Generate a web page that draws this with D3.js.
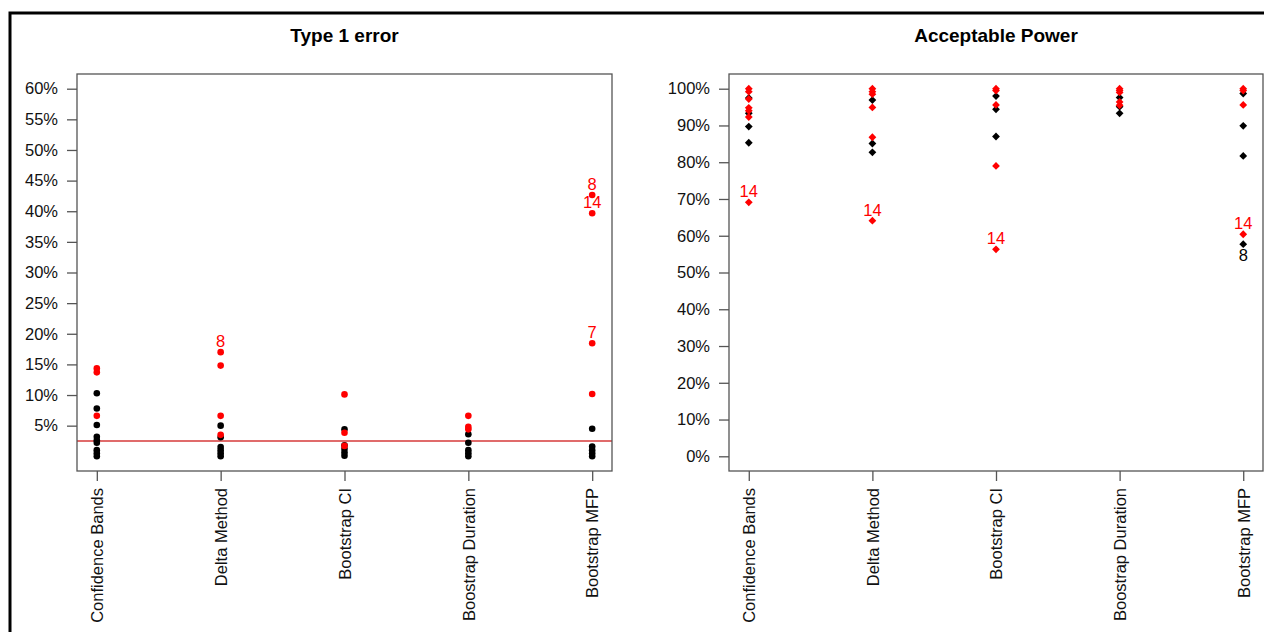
<!DOCTYPE html>
<html>
<head>
<meta charset="utf-8">
<script src="https://cdn.jsdelivr.net/npm/d3@7"></script>
<style>
  body { margin: 0; background: #fff; }
  svg { display: block; font-family: "Liberation Sans", Arial, sans-serif; }
</style>
</head>
<body>
<div id="chart"></div>
<script>
var width = 1264,
    height = 632;

var categories = ["Confidence Bands", "Delta Method", "Bootstrap CI", "Boostrap Duration", "Bootstrap MFP"];

// type 1 error, one list per method
var type1Black = [
  [0.103, 0.078, 0.051, 0.032, 0.026, 0.022, 0.010, 0.005, 0.000],
  [0.050, 0.031, 0.015, 0.010, 0.005, 0.000],
  [0.044, 0.018, 0.012, 0.006, 0.001],
  [0.036, 0.022, 0.010, 0.005, 0.000],
  [0.045, 0.016, 0.010, 0.005, 0.000]
];
var type1Red = [
  [0.1435, 0.137, 0.066],
  [0.170, 0.148, 0.066, 0.035],
  [0.101, 0.0385, 0.017],
  [0.066, 0.048, 0.044],
  [0.4265, 0.3966, 0.1844, 0.1017]
];
// labelled points: [method index, value, label, colour, above?]
var type1Labels = [
  [1, 0.170, "8", "red", true],
  [4, 0.4265, "8", "red", true],
  [4, 0.3966, "14", "red", true],
  [4, 0.1844, "7", "red", true]
];
var type1Ticks = [0.05, 0.10, 0.15, 0.20, 0.25, 0.30, 0.35, 0.40, 0.45, 0.50, 0.55, 0.60];
var type1Ref = 0.025;

// acceptable power
var powerBlack = [
  [0.975, 0.933, 0.897, 0.853],
  [0.969, 0.851, 0.827],
  [0.980, 0.944, 0.870],
  [0.976, 0.951, 0.933],
  [0.987, 0.899, 0.817, 0.577]
];
var powerRed = [
  [1.000, 0.992, 0.972, 0.948, 0.940, 0.923, 0.691],
  [1.000, 0.992, 0.985, 0.949, 0.868, 0.641],
  [1.000, 0.995, 0.956, 0.790, 0.563],
  [1.000, 0.995, 0.990, 0.964, 0.955],
  [1.000, 0.995, 0.956, 0.604]
];
var powerLabels = [
  [0, 0.691, "14", "red", true],
  [1, 0.641, "14", "red", true],
  [2, 0.563, "14", "red", true],
  [4, 0.604, "14", "red", true],
  [4, 0.577, "8", "black", false]
];
var powerTicks = [0, 0.1, 0.2, 0.3, 0.4, 0.5, 0.6, 0.7, 0.8, 0.9, 1.0];

var svg = d3.select('#chart').append('svg')
  .attr('width', width)
  .attr('height', height);

// outer frame
svg.append('rect')
  .attr('x', 10).attr('y', 13)
  .attr('width', width + 20).attr('height', height + 20)
  .attr('fill', 'none').attr('stroke', '#000').attr('stroke-width', 3);

function panel(opts) {
  var g = svg.append('g');
  var lo = opts.ylim[0], hi = opts.ylim[1], pad = (hi - lo) * 0.04;
  var y = d3.scaleLinear().domain([lo - pad, hi + pad]).range([opts.bottom, opts.top]);
  var x = d3.scaleLinear().domain([1 - 0.16, 5 + 0.16]).range([opts.left, opts.right]);

  g.append('text')
    .attr('x', (opts.left + opts.right) / 2).attr('y', 42)
    .attr('text-anchor', 'middle')
    .attr('font-size', '19px').attr('font-weight', 'bold')
    .text(opts.title);

  // y axis
  var yAxis = d3.axisLeft(y).tickValues(opts.ticks).tickSize(10).tickPadding(9)
    .tickFormat(d3.format('.0%'));
  var ya = g.append('g').attr('transform', 'translate(' + opts.left + ',0)').call(yAxis);
  ya.select('.domain').remove();
  ya.selectAll('line').attr('stroke', '#555').attr('stroke-width', 1.3);
  ya.selectAll('text').attr('font-size', '16.5px').attr('fill', '#111')
    .attr('font-family', '"Liberation Sans", Arial, sans-serif');

  // x axis
  var xAxis = d3.axisBottom(x).tickValues([1, 2, 3, 4, 5]).tickSize(10).tickPadding(8)
    .tickFormat(function(d) { return categories[d - 1]; });
  var xa = g.append('g').attr('transform', 'translate(0,' + opts.bottom + ')').call(xAxis);
  xa.select('.domain').remove();
  xa.selectAll('line').attr('stroke', '#555').attr('stroke-width', 1.3);
  xa.selectAll('text')
    .attr('font-size', '16.5px').attr('fill', '#111')
    .attr('font-family', '"Liberation Sans", Arial, sans-serif')
    .attr('transform', 'rotate(-90)')
    .attr('text-anchor', 'end')
    .attr('x', -17).attr('y', 0).attr('dy', '0.35em');

  if (opts.ref != null) {
    g.append('line')
      .attr('x1', opts.left).attr('x2', opts.right)
      .attr('y1', y(opts.ref)).attr('y2', y(opts.ref))
      .attr('stroke', '#d63a3a').attr('stroke-width', 1.3);
  }

  function drawPoints(list, colour) {
    list.forEach(function(vals, i) {
      vals.forEach(function(v) {
        var px = x(i + 1), py = y(v);
        if (opts.shape === 'circle') {
          g.append('circle').attr('cx', px).attr('cy', py).attr('r', 3.3).attr('fill', colour);
        } else {
          var s = 3.9;
          g.append('path')
            .attr('d', 'M' + px + ',' + (py - s) + 'L' + (px + s) + ',' + py + 'L' + px + ',' + (py + s) + 'L' + (px - s) + ',' + py + 'Z')
            .attr('fill', colour);
        }
      });
    });
  }
  drawPoints(opts.black, '#000');
  drawPoints(opts.red, '#ff0000');

  opts.labels.forEach(function(l) {
    g.append('text')
      .attr('x', x(l[0] + 1))
      .attr('y', l[4] ? y(l[1]) - 5 : y(l[1]) + 17)
      .attr('text-anchor', 'middle')
      .attr('font-size', '16.5px')
      .attr('fill', l[3] === 'red' ? '#ff0000' : '#000')
      .text(l[2]);
  });

  g.append('rect')
    .attr('x', opts.left).attr('y', opts.top)
    .attr('width', opts.right - opts.left).attr('height', opts.bottom - opts.top)
    .attr('fill', 'none').attr('stroke', '#555').attr('stroke-width', 1.3);
}

panel({
  title: 'Type 1 error', left: 77, right: 612, top: 74, bottom: 471,
  ylim: [0, 0.6], ticks: type1Ticks, ref: type1Ref, shape: 'circle',
  black: type1Black, red: type1Red, labels: type1Labels
});

panel({
  title: 'Acceptable Power', left: 729, right: 1263, top: 74, bottom: 471,
  ylim: [0, 1], ticks: powerTicks, ref: null, shape: 'diamond',
  black: powerBlack, red: powerRed, labels: powerLabels
});
</script>
</body>
</html>
